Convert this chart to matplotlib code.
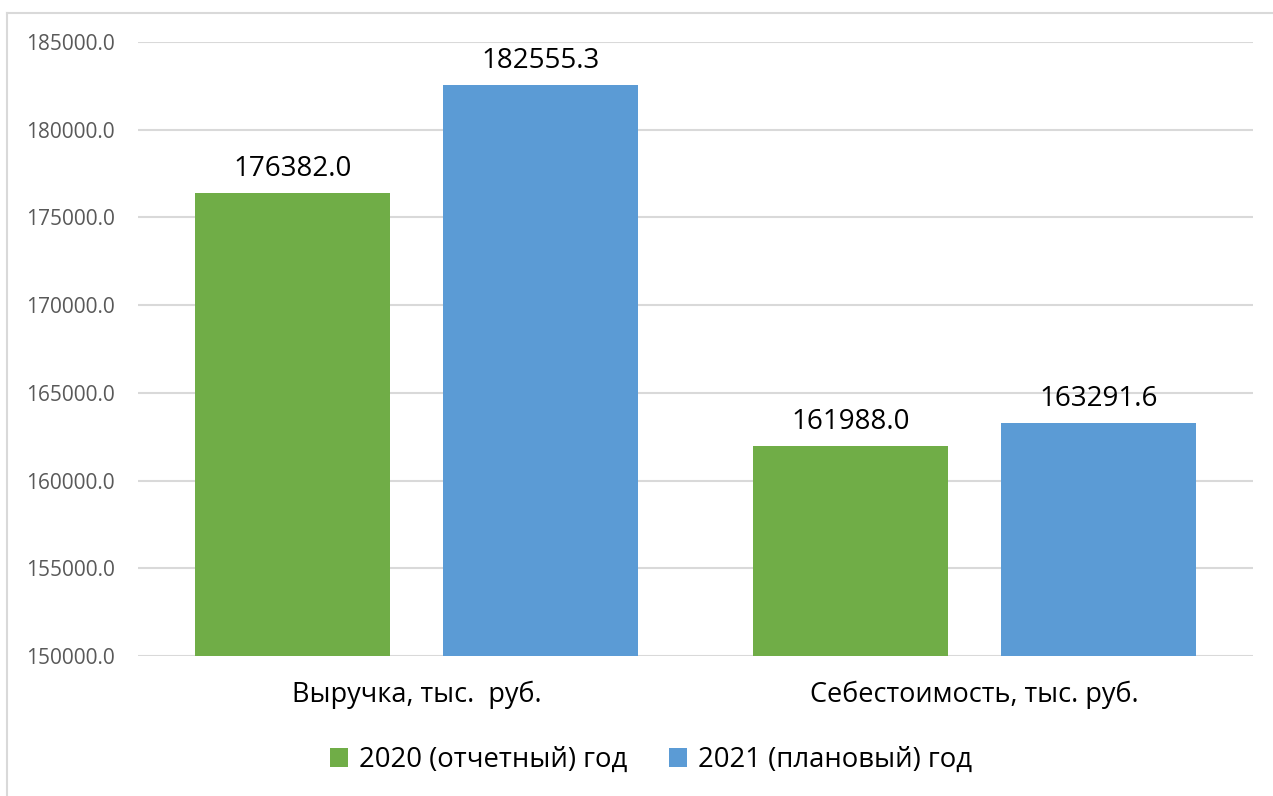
import numpy as np
import matplotlib.pyplot as plt
from matplotlib.lines import Line2D
from matplotlib.patches import Patch

plt.rcParams['font.family'] = ['Open Sans', 'DejaVu Sans']

# Данные
kategorii = ["Выручка, тыс.  руб.", "Себестоимость, тыс. руб."]
god_2020 = [176382.0, 161988.0]
god_2021 = [182555.3, 163291.6]
serii = ["2020 (отчетный) год", "2021 (плановый) год"]
cveta = ["#70ad47", "#5b9bd5"]

fig = plt.figure(figsize=(12.73, 7.96), dpi=100)
ax = fig.add_axes([138 / 1273, 1 - 656 / 796, (1253 - 138) / 1273, (656 - 42) / 796])

x = np.arange(len(kategorii))
shirina = 0.35
sdvig = 0.2224

for znach, cvet, d in [(god_2020, cveta[0], -sdvig), (god_2021, cveta[1], sdvig)]:
    bars = ax.bar(x + d, [v - 150000 for v in znach], bottom=150000,
                  width=shirina, color=cvet, zorder=3)
    for b, v in zip(bars, znach):
        ax.annotate(f"{v:.1f}", (b.get_x() + b.get_width() / 2, v),
                    xytext=(0, 7), textcoords="offset points",
                    ha="center", va="bottom", fontsize=20, color="black")

ax.set_ylim(150000, 185000)
ax.set_xlim(-0.5, 1.5)
ax.set_yticks(np.arange(150000, 185001, 5000))
ax.set_yticklabels([f"{t:.1f}" for t in np.arange(150000, 185001, 5000)],
                   color="#595959", fontsize=15)
ax.tick_params(axis="y", length=0, pad=16.5)
ax.set_xticks(x)
ax.set_xticklabels(kategorii, fontsize=19.5, color="black")
ax.tick_params(axis="x", length=0, pad=18)
ax.grid(axis="y", color="#d9d9d9", linewidth=1.5, zorder=0)
for s in ax.spines.values():
    s.set_visible(False)

# легенда
ruchki = [Patch(facecolor=c) for c in cveta]
fig.legend(ruchki, serii, loc="center", bbox_to_anchor=(651 / 1273, 1 - 760 / 796),
           ncol=2, frameon=False, fontsize=19.8, handlelength=0.65, handleheight=0.65,
           handletextpad=0.4, columnspacing=1.5)

# рамка области диаграммы
fig.add_artist(Line2D([7 / 1273, 7 / 1273], [0, 1 - 13 / 796], color="#d9d9d9",
                      linewidth=1.5, transform=fig.transFigure))
fig.add_artist(Line2D([7 / 1273, 1], [1 - 13 / 796, 1 - 13 / 796], color="#d9d9d9",
                      linewidth=1.5, transform=fig.transFigure))

fig.savefig("out.png", dpi=100)
